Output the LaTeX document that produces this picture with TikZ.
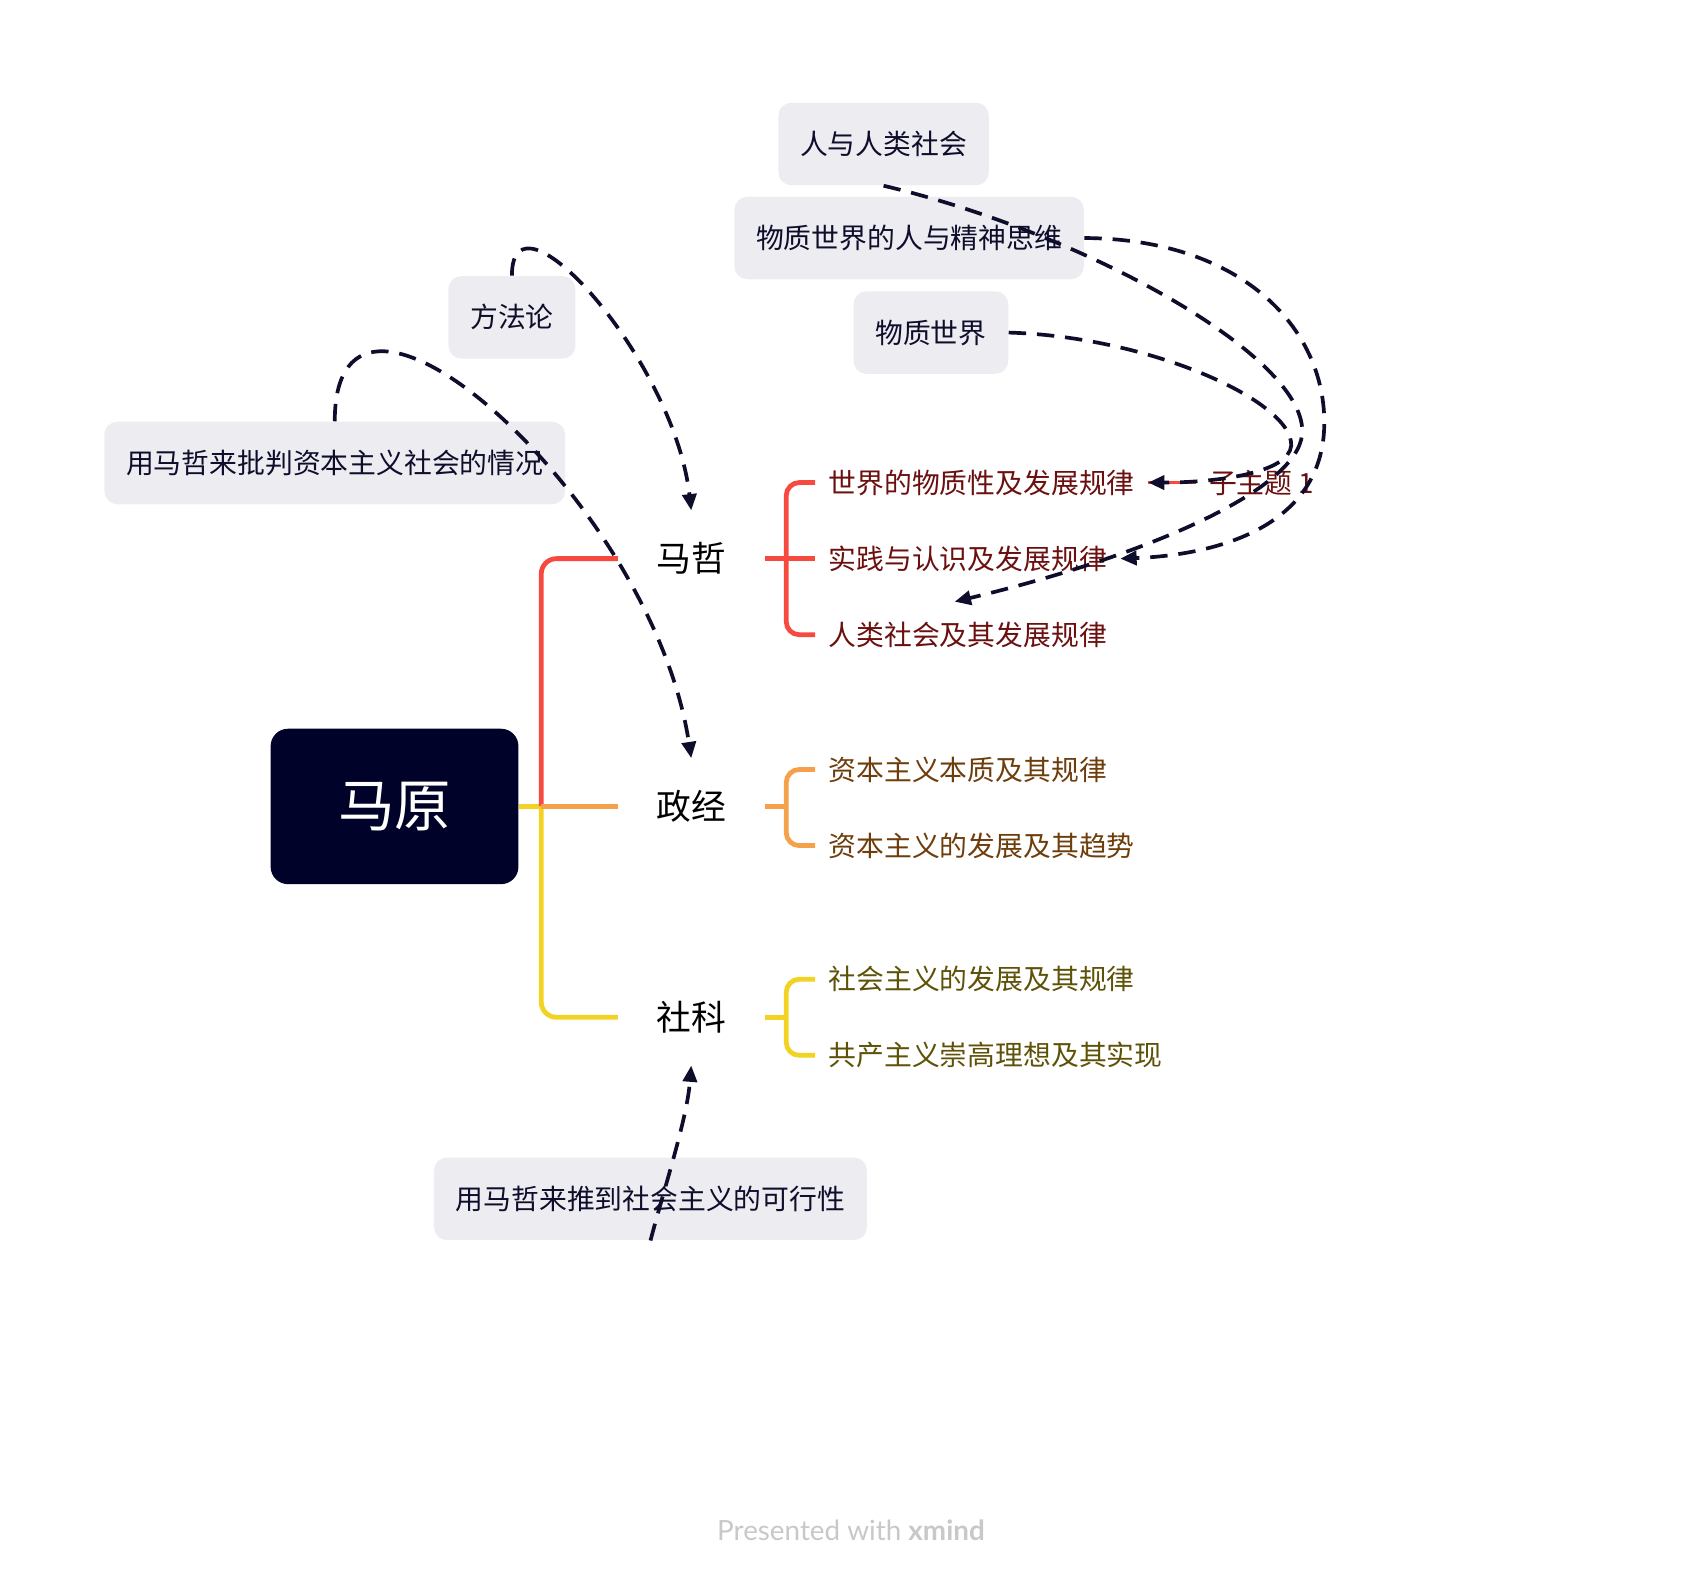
\documentclass[tikz,border=0pt]{standalone}
\usepackage{fontspec}
\setmainfont{Noto Sans CJK SC}
\newfontfamily\markfont{Lato}
\usetikzlibrary{positioning,arrows.meta}

\definecolor{navy}{HTML}{000229}
\definecolor{inkblue}{HTML}{0E0E2C}
\definecolor{boxgray}{HTML}{EDECF0}
\definecolor{lred}{HTML}{F64A3F}
\definecolor{lorange}{HTML}{F5A04B}
\definecolor{lyellow}{HTML}{F2D222}
\definecolor{tred}{HTML}{6B0F0F}
\definecolor{tbrown}{HTML}{6E3D0C}
\definecolor{tolive}{HTML}{5E5108}
\definecolor{markgray}{HTML}{C8C8C8}

\tikzset{
  maintopic/.style={fill=navy, text=white, rounded corners=8pt, minimum width=114pt, minimum height=71.5pt, font=\fontsize{26pt}{30pt}\selectfont},
  branch/.style={minimum width=67pt, minimum height=44pt, inner sep=0pt, font=\fontsize{16pt}{19pt}\selectfont},
  sub/.style={anchor=west, inner xsep=6pt, inner ysep=0pt, minimum height=30pt, font=\fontsize{12.8pt}{15pt}\selectfont},
  floating/.style={fill=boxgray, text=inkblue, rounded corners=6pt, inner xsep=10pt, minimum height=38pt, font=\fontsize{12.8pt}{15pt}\selectfont},
  link/.style={line width=2.2pt, rounded corners=7pt},
  relation/.style={draw=inkblue, line width=1.7pt, dash pattern=on 8pt off 5pt, -{Triangle[length=7.5pt,width=6.5pt]}}
}

\begin{document}
\begin{tikzpicture}[x=0.5pt, y=-0.5pt]
    \useasboundingbox (0,0) rectangle (1566,1454);

    \node[maintopic] at (363,742) (main) {马原};
    \node[branch] at (636,514) (mazhe) {马哲};
    \node[branch] at (636,742) (zhengjing) {政经};
    \node[branch] at (636,936) (sheke) {社科};

    \coordinate (trunk) at (498,742);
    \draw[link, lyellow] (main.east) -- (trunk);
    \draw[link, lred] (trunk) |- (mazhe.west);
    \draw[link, lyellow] (trunk) |- (sheke.west);
    \draw[link, lorange] (trunk) -- (zhengjing.west);

    \foreach \n/\y/\c/\t in {
        mz1/444/tred/世界的物质性及发展规律,
        mz2/514/tred/实践与认识及发展规律,
        mz3/584/tred/人类社会及其发展规律,
        zj1/708/tbrown/资本主义本质及其规律,
        zj2/778/tbrown/资本主义的发展及其趋势,
        sk1/901/tolive/社会主义的发展及其规律,
        sk2/971/tolive/共产主义崇高理想及其实现} {
        \node[sub, text=\c] at (750,\y) (\n) {\t};
    }

    \coordinate[right=10pt of mazhe.east] (mzfork);
    \coordinate[right=10pt of zhengjing.east] (zjfork);
    \coordinate[right=10pt of sheke.east] (skfork);
    \draw[link, lred, rounded corners=6pt] (mz1.west) -| (mzfork) |- (mz3.west);
    \draw[link, lred] (mazhe.east) -- (mz2.west);
    \draw[link, lorange, rounded corners=6pt] (zj1.west) -| (zjfork) |- (zj2.west);
    \draw[link, lorange] (zhengjing.east) -- (zjfork);
    \draw[link, lyellow, rounded corners=6pt] (sk1.west) -| (skfork) |- (sk2.west);
    \draw[link, lyellow] (sheke.east) -- (skfork);

    \node[sub, text=tred] at (1100,444) (topic1) {子主题 1};
    \draw[lred, line width=1.5pt] (mz1.east) -- (topic1.west);

    \node[floating] at (813,132.5) (renlei) {人与人类社会};
    \node[floating] at (836.5,219) (wuzhiren) {物质世界的人与精神思维};
    \node[floating] at (856.5,306) (wuzhi) {物质世界};
    \node[floating] at (471,292) (fangfa) {方法论};
    \node[floating] at (308,426) (pipan) {用马哲来批判资本主义社会的情况};
    \node[floating] at (598.5,1103) (tuidao) {用马哲来推到社会主义的可行性};

    \draw[relation] (fangfa.north) .. controls (471,165) and (620,330) .. (mazhe.north);
    \draw[relation] (pipan.north) .. controls (308,200) and (600,460) .. (zhengjing.north);
    \draw[relation] (tuidao.south) .. controls (612,1090) and (632,1030) .. (sheke.south);
    \draw[relation] (renlei.south) .. controls (1000,215) and (1205,330) .. (1198,400)
        .. controls (1193,450) and (1060,510) .. ([xshift=-6pt]mz3.north);
    \draw[relation] (wuzhiren.east) .. controls (1150,220) and (1225,310) .. (1218,400)
        .. controls (1210,490) and (1110,511) .. (mz2.east);
    \draw[relation] (wuzhi.east) .. controls (1060,310) and (1190,370) .. (1188,410)
        .. controls (1186,435) and (1120,444) .. (mz1.east);

    \node[text=markgray, font=\markfont\fontsize{12.8pt}{15pt}\selectfont] at (783,1408) (credit) {Presented with \textbf{xmind}};
\end{tikzpicture}
\end{document}
